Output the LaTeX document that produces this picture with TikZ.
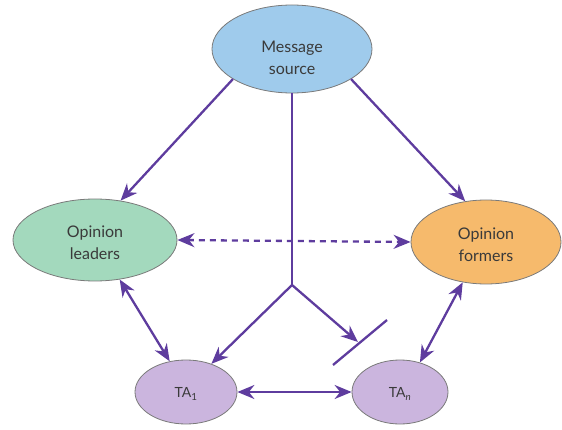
\documentclass[tikz,border=0pt]{standalone}
\usepackage{fontspec}
\setmainfont{Lato}
\usetikzlibrary{shapes.geometric,arrows.meta}
\definecolor{arr}{HTML}{5E3C9E}
\definecolor{cblue}{HTML}{9FCBEC}
\definecolor{cgreen}{HTML}{A3D9BD}
\definecolor{corange}{HTML}{F6BA6C}
\definecolor{cpurple}{HTML}{CBB5DE}
\definecolor{edge}{HTML}{7A7A7A}
\definecolor{txt}{HTML}{3A3A3A}
\tikzset{
  bub/.style={ellipse, draw=edge, line width=0.8pt, inner sep=0pt},
  lbl/.style={align=center, text=txt, font=\fontsize{16}{22}\selectfont, inner sep=0pt},
  tip/.style={Stealth[length=17pt,width=14pt]},
  conn/.style={draw=arr, line width=2.3pt, -{Stealth[length=17pt,width=14pt]}},
  conn2/.style={draw=arr, line width=2.3pt, {Stealth[length=17pt,width=14pt]}-{Stealth[length=17pt,width=14pt]}},
}
\begin{document}
\begin{tikzpicture}[x=1pt,y=-1pt]
\useasboundingbox (0,0) rectangle (562,430);
\node[bub, fill=cblue, minimum width=160, minimum height=88] (ms) at (292,49) {};
\node[lbl] (msl) at (292,58) {Message\\source};
\node[bub, fill=cgreen, minimum width=164, minimum height=82] (ol) at (95,240) {};
\node[lbl] (oll) at (95,243) {Opinion\\leaders};
\node[bub, fill=corange, minimum width=150, minimum height=84] (of) at (486,242) {};
\node[lbl] (ofl) at (486,245) {Opinion\\formers};
\node[bub, fill=cpurple, minimum width=102, minimum height=64] (ta1) at (186,392) {};
\node[lbl, font=\fontsize{14}{16}\selectfont] (ta1l) at (186,394) {TA\textsubscript{1}};
\node[bub, fill=cpurple, minimum width=96, minimum height=64] (tan) at (400,392) {};
\node[lbl, font=\fontsize{14}{16}\selectfont] (tanl) at (400,394) {TA\textsubscript{\itshape n}};
\coordinate (j) at (292,285);
\coordinate (b1) at (333,365);
\coordinate (b2) at (387,320);
\coordinate (bt) at (358,342);

\draw[conn] (ms.207) -- (ol.57);
\draw[conn] (ms.333) -- (of.117);
\draw[draw=arr, line width=2.3pt] (ms.south) -- (j);
\draw[conn] (j) -- (ta1.48);
\draw[conn] (j) -- (bt);
\draw[draw=arr, line width=2.3pt] (b1) -- (b2);
\draw[conn2, dash pattern=on 6pt off 5pt] (ol.east) -- (of.west);
\draw[conn2] (ol.302) -- (ta1.118);
\draw[conn2] (of.240) -- (tan.56);
\draw[conn2] (ta1.east) -- (tan.west);
\end{tikzpicture}
\end{document}
